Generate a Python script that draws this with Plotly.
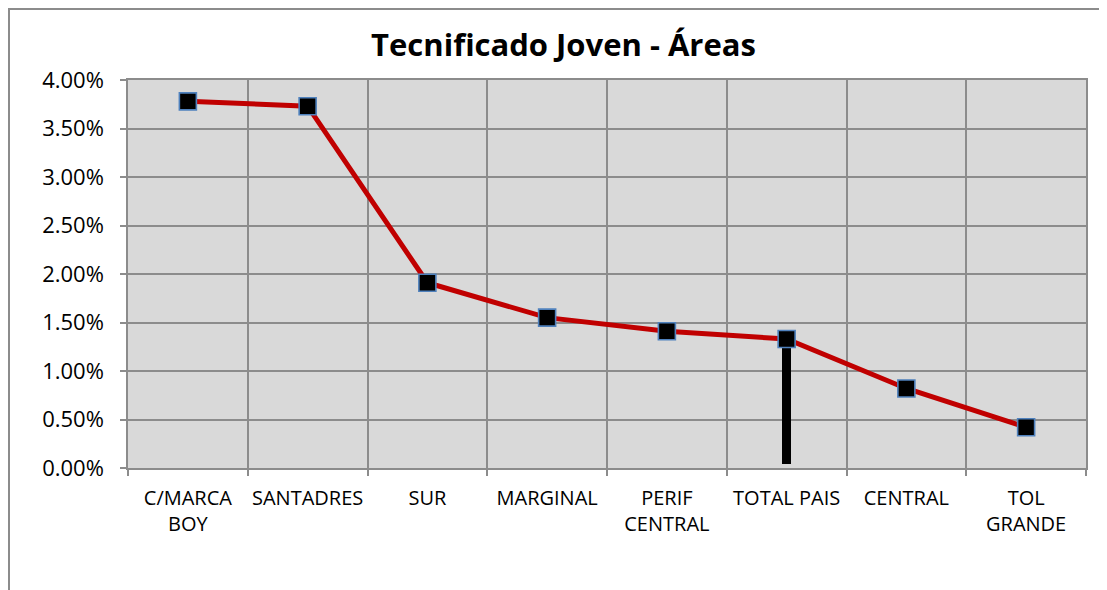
import plotly.graph_objects as go

categories = ["C/MARCA<br>BOY", "SANTADRES", "SUR", "MARGINAL", "PERIF<br>CENTRAL",
              "TOTAL PAIS", "CENTRAL", "TOL<br>GRANDE"]
values = [0.0378, 0.0373, 0.0191, 0.0155, 0.0141, 0.0133, 0.0082, 0.0042]

# black vertical marker bar at TOTAL PAIS
bar_category = ["TOTAL PAIS"]
bar_base = [0.0004]
bar_top = [0.0133]

y_ticks = [0.0, 0.005, 0.01, 0.015, 0.02, 0.025, 0.03, 0.035, 0.04]
y_tick_text = ["0.00%", "0.50%", "1.00%", "1.50%", "2.00%", "2.50%", "3.00%", "3.50%", "4.00%"]

FONT = "Open Sans"
GRID = "#8C8C8C"

# page has an 8px body margin; figure is sized to fill the rest of the window
W, H = 1099, 582

fig = go.Figure()
fig.add_trace(go.Bar(
    x=bar_category, y=[t - b for t, b in zip(bar_top, bar_base)], base=bar_base,
    width=0.075, marker=dict(color="black", line=dict(width=0)), showlegend=False,
    hoverinfo="skip"))
fig.add_trace(go.Scatter(
    x=categories, y=values, mode="lines+markers",
    line=dict(color="#C00000", width=5),
    marker=dict(symbol="square", size=17, color="black",
                line=dict(color="#4F81BD", width=1.6)),
    showlegend=False))

pl, pt, pr, pb = 120, 72, 21, 122
pw, ph = W - pl - pr, H - pt - pb

fig.update_layout(
    width=W, height=H,
    margin=dict(l=pl, r=pr, t=pt, b=pb),
    paper_bgcolor="white", plot_bgcolor="#D9D9D9",
    font=dict(family=FONT, size=20, color="black"),
    title=dict(text="<b>Tecnificado Joven - Áreas</b>", x=(563.5 - 8 - pl) / pw, xref="paper",
               xanchor="center", y=1 - 37 / H, yanchor="middle",
               font=dict(family=FONT, size=31, color="black")),
    bargap=0,
    xaxis=dict(type="category", categoryorder="array", categoryarray=categories,
               tickson="boundaries", showgrid=True, gridcolor=GRID, gridwidth=1.5,
               ticks="outside", ticklen=6, tickcolor=GRID, tickwidth=1.5,
               showline=True, linecolor=GRID, linewidth=1.5, mirror=True,
               range=[-0.5, 7.5], tickfont=dict(size=20, family=FONT),
               tickangle=0, automargin=False, ticklabelstandoff=11),
    yaxis=dict(range=[0, 0.04], tickvals=y_ticks, ticktext=y_tick_text,
               showgrid=True, gridcolor=GRID, gridwidth=1.5,
               ticks="outside", ticklen=6, tickcolor=GRID, tickwidth=1.5,
               showline=True, linecolor=GRID, linewidth=1.5, mirror=True,
               zeroline=False, tickfont=dict(size=22, family=FONT),
               automargin=False, ticklabelstandoff=12),
    shapes=[dict(type="rect", xref="paper", yref="paper",
                 x0=(1 - pl) / pw, x1=1.05, y0=-0.5, y1=1 + (pt - 1) / ph,
                 line=dict(color="#8C8C8C", width=2), fillcolor="rgba(0,0,0,0)",
                 layer="below")],
)

fig.write_html("out.html")
